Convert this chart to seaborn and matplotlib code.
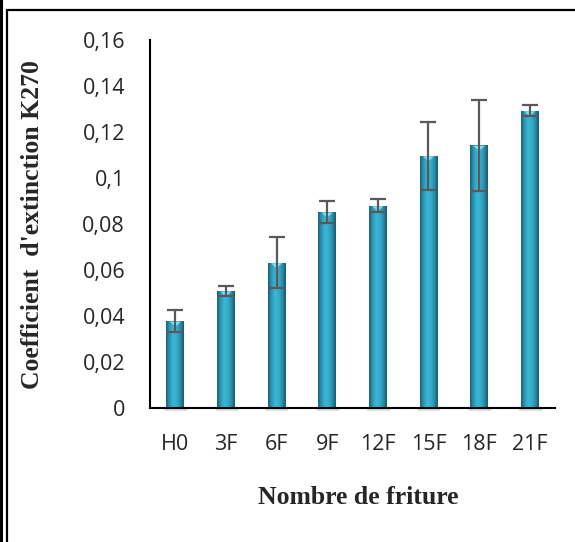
import matplotlib
matplotlib.use("Agg")
import matplotlib.pyplot as plt
import seaborn as sns
import numpy as np
import pandas as pd
from matplotlib.lines import Line2D
from matplotlib.colors import LinearSegmentedColormap

categories = ["H0", "3F", "6F", "9F", "12F", "15F", "18F", "21F"]
values = [0.0378, 0.0509, 0.0632, 0.0852, 0.0880, 0.1097, 0.1142, 0.1293]
errors = [0.0048, 0.0020, 0.0110, 0.0048, 0.0028, 0.0148, 0.0198, 0.0025]
yticks = [0, 0.02, 0.04, 0.06, 0.08, 0.10, 0.12, 0.14, 0.16]
ytick_labels = ["0", "0,02", "0,04", "0,06", "0,08", "0,1", "0,12", "0,14", "0,16"]

sns.set_style("white")
df = pd.DataFrame({"cat": categories, "val": values})

W, H = 575, 542
fig = plt.figure(figsize=(W / 100, H / 100), dpi=100)
ax = fig.add_axes([150 / W, 1 - 408 / H, 405 / W, 368 / H])
sns.barplot(data=df, x="cat", y="val", color="#2FA3C3", width=0.35,
            edgecolor="none", linewidth=0, ax=ax, saturation=1)
bars = list(ax.patches)

# horizontal gradient shading on each bar, clipped to the bar
cmap = LinearSegmentedColormap.from_list(
    "bar", ["#1B6276", "#2C98B6", "#3CB6D6", "#36ADCC", "#2A8EAA", "#1A5A6C"])
grad = np.linspace(0, 1, 64).reshape(1, -1)
for p in bars:
    x0, w, h = p.get_x(), p.get_width(), p.get_height()
    # soft shadow at base
    ax.fill_between([x0 - 0.03, x0 + w + 0.06], -0.0012, 0.0006, color="#bbbbbb",
                    alpha=0.5, lw=0, zorder=1, clip_on=False)
    im = ax.imshow(grad, extent=[x0, x0 + w, 0, h], aspect="auto", cmap=cmap,
                   zorder=p.get_zorder() + 0.1, interpolation="bilinear")
    im.set_clip_path(p)
    # small light triangle at the top
    ax.fill([x0 + w * 0.2, x0 + w * 0.8, x0 + w * 0.5],
            [h - 0.0003, h - 0.0003, h - 0.0025], color="#7FE3F5", lw=0,
            zorder=p.get_zorder() + 0.2)

xs = [p.get_x() + p.get_width() / 2 for p in bars]
ax.errorbar(xs, values, yerr=errors, fmt="none", ecolor="#595959",
            elinewidth=1.6, capsize=5.5, capthick=1.6, zorder=5)

ax.set_ylim(0, 0.16)
ax.set_xlim(-0.5, 7.5)
ax.set_yticks(yticks)
ax.set_yticklabels(ytick_labels)
ax.tick_params(axis="y", length=0, labelsize=15.5, pad=18)
ax.tick_params(axis="x", length=0, labelsize=15.5, pad=19)
for lab in ax.get_xticklabels() + ax.get_yticklabels():
    lab.set_fontfamily("Open Sans")
ax.set_xlabel("")
ax.set_ylabel("")
for s in ["top", "right"]:
    ax.spines[s].set_visible(False)
for s in ["left", "bottom"]:
    ax.spines[s].set_color("black")
    ax.spines[s].set_linewidth(1.5)
    ax.spines[s].set_zorder(6)

fig.text(358 / W, 1 - 498 / H, "Nombre de friture", ha="center", va="center",
         fontfamily="Liberation Serif", fontweight="bold", fontsize=18.5)
fig.text(33 / W, 1 - 225 / H, "Coefficient  d'extinction K270", ha="center", va="center",
         rotation=90, fontfamily="Liberation Serif", fontweight="bold", fontsize=18.5)

# frame lines (partial box as in the reference)
def px_line(x0, y0, x1, y1, lw):
    fig.add_artist(Line2D([x0 / W, x1 / W], [1 - y0 / H, 1 - y1 / H],
                          transform=fig.transFigure, color="black", lw=lw))

px_line(1, 0, 1, H, 2.2)
px_line(7, 10, 7, H, 1.6)
px_line(7, 10, W, 10, 1.6)

fig.savefig("out.png", dpi=100)
